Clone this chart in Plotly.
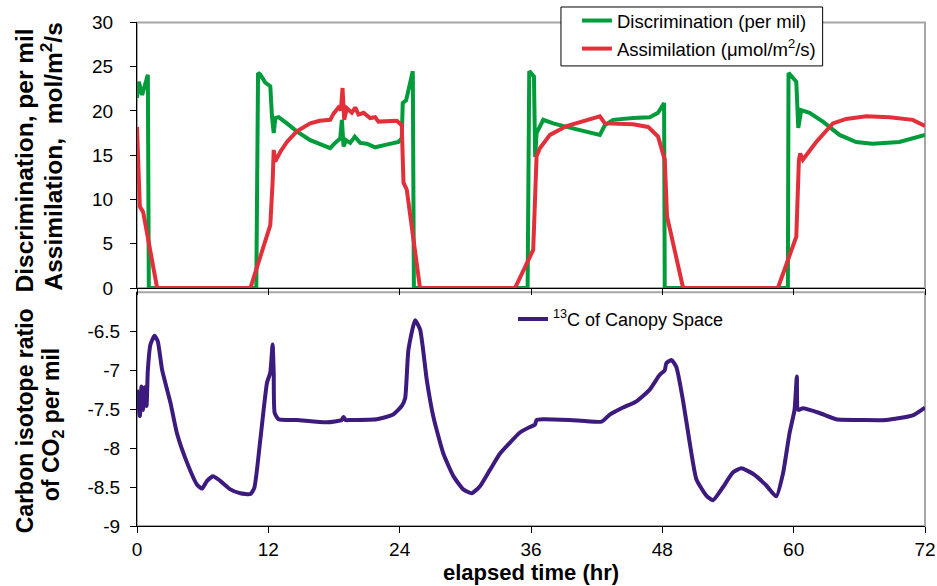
import plotly.graph_objects as go

# ---------------- data ----------------
disc_t = [0.0, 0.17, 0.47, 0.62, 0.99, 1.08, 10.9, 11.06, 11.27, 11.72, 12.18, 12.33, 12.49, 12.64,
          12.94, 13.7, 14.6, 15.83, 17.65, 18.1, 18.57, 18.72, 18.87, 19.1, 19.48, 19.9, 20.4, 21.0,
          21.76, 22.8, 23.89, 24.19, 24.28, 24.59, 25.2, 25.3, 35.69, 35.84, 36.27, 36.38, 36.51,
          37.12, 38.03, 39.25, 40.77, 42.29, 42.75, 43.5, 45.33, 46.85, 47.61, 48.16, 48.22, 59.47,
          59.53, 60.24, 60.42, 60.69, 61.45, 62.67, 64.19, 65.71, 67.2, 69.66, 72.0]
disc_v = [21.5, 23.3, 21.8, 22.4, 24.1, 0.0, 0.0, 24.3, 24.1, 23.2, 22.8, 19.4, 17.5, 19.2,
          19.3, 18.6, 17.7, 16.7, 15.8, 16.4, 16.9, 19.0, 16.0, 16.7, 16.4, 17.1, 16.4, 16.3,
          15.9, 16.2, 16.5, 16.9, 20.9, 21.2, 24.5, 0.0, 0.0, 24.5, 23.9, 14.8, 17.5,
          19.0, 18.6, 18.2, 17.8, 17.3, 18.4, 19.0, 19.2, 19.3, 19.8, 20.9, 0.0, 0.0,
          24.3, 23.3, 18.1, 20.1, 19.8, 18.8, 17.3, 16.5, 16.3, 16.5, 17.3]

assim_t = [0.0, 0.17, 0.26, 0.56, 1.84, 10.36, 12.18, 12.4, 12.49, 12.64, 13.1, 13.7, 14.6, 15.83,
           16.7, 17.65, 17.96, 18.4, 18.63, 18.78, 18.93, 19.18, 19.63, 19.94, 20.24, 20.7, 21.3,
           21.76, 22.07, 23.74, 24.19, 24.35, 24.65, 25.86, 34.54, 36.2, 36.51, 36.81, 37.73,
           39.25, 40.77, 42.29, 42.75, 43.8, 45.33, 46.7, 47.61, 48.22, 48.43, 49.9, 58.56,
           60.24, 60.48, 60.6, 60.84, 62.06, 63.58, 64.8, 66.62, 68.75, 70.88, 72.0]
assim_v = [18.2, 12.2, 9.2, 8.6, 0.0, 0.0, 7.1, 12.2, 15.6, 14.3, 15.4, 16.5, 17.7, 18.6,
           18.9, 19.0, 19.7, 20.4, 20.1, 22.6, 19.0, 20.3, 19.8, 20.4, 19.6, 19.8, 19.2,
           19.3, 18.8, 18.9, 18.4, 11.9, 11.1, 0.0, 0.0, 4.3, 14.9, 15.8, 17.3,
           18.3, 18.9, 19.4, 18.6, 18.6, 18.5, 18.2, 17.1, 14.5, 8.1, 0.0, 0.0,
           5.8, 14.5, 15.2, 14.5, 16.5, 18.6, 19.1, 19.4, 19.3, 19.0, 18.3]

c13_t = [0.0, 0.26, 0.41, 0.56, 0.68, 0.87, 0.99, 1.23, 1.6, 1.9, 2.3, 3.06, 3.65, 4.58, 5.49,
         5.95, 6.4, 6.95, 7.6, 8.53, 9.44, 10.36, 10.72, 11.27, 11.88, 12.18, 12.39, 12.49,
         12.58, 12.94, 14.6, 17.35, 18.7, 18.87, 19.05, 19.48, 21.9, 23.4, 24.19, 24.5, 24.8,
         25.41, 25.87, 26.48, 27.08, 27.99, 28.91, 29.82, 30.58, 31.34, 32.25, 33.17, 34.08,
         34.99, 35.9, 36.36, 36.51, 37.12, 39.55, 42.44, 43.2, 44.41, 45.63, 46.85, 47.76,
         48.22, 48.37, 48.83, 49.28, 49.89, 50.5, 51.11, 52.02, 52.63, 53.55, 54.46, 55.22,
         56.28, 57.5, 58.41, 59.02, 59.62, 60.08, 60.29, 60.41, 60.84, 62.36, 63.88, 66.32,
         68.45, 70.88, 72.0]
c13_v = [-7.25, -7.59, -7.21, -7.51, -7.22, -7.46, -7.0, -6.67, -6.56, -6.63, -7.0, -7.42, -7.81,
         -8.19, -8.47, -8.52, -8.42, -8.36, -8.42, -8.53, -8.58, -8.59, -8.51, -7.89, -7.16,
         -7.03, -6.67, -7.03, -7.55, -7.63, -7.64, -7.67, -7.64, -7.6, -7.64, -7.64, -7.63,
         -7.57, -7.46, -7.36, -6.74, -6.36, -6.48, -7.13, -7.6, -8.07, -8.36, -8.53, -8.58,
         -8.49, -8.28, -8.07, -7.93, -7.8, -7.73, -7.7, -7.64, -7.63, -7.64, -7.66, -7.57,
         -7.48, -7.4, -7.25, -7.06, -7.0, -6.91, -6.87, -6.96, -7.39, -7.93, -8.4, -8.61,
         -8.67, -8.5, -8.31, -8.26, -8.33, -8.48, -8.62, -8.33, -7.81, -7.51, -7.08, -7.51,
         -7.49, -7.55, -7.63, -7.64, -7.64, -7.58, -7.48]

x_ticks = [0, 12, 24, 36, 48, 60, 72]
top_ticks = [0, 5, 10, 15, 20, 25, 30]
bot_ticks = [-9, -8.5, -8, -7.5, -7, -6.5]
bot_ticktext = ["-9", "-8.5", "-8", "-7.5", "-7", "-6.5"]

# ---------------- styles / layout helpers ----------------
FONT = "Liberation Sans, Arial, sans-serif"
GREEN = "#009B3A"
RED = "#E1303A"
PURPLE = "#3C1A7E"
GRAY = "#A6A6A6"

W, H = 937, 586
ML, MR, MT, MB = 136.5, 11.5, 0, 59.5
PW, PH = W - ML - MR, H - MT - MB


def px_x(px):
    return (px - ML) / PW


def px_y(py):
    return (H - MB - py) / PH


fig = go.Figure()
fig.add_trace(go.Scatter(x=disc_t, y=disc_v, mode="lines", name="Discrimination (per mil)",
                         line=dict(color=GREEN, width=4), xaxis="x", yaxis="y", legend="legend",
                         legendgroup="a"))
fig.add_trace(go.Scatter(x=assim_t, y=assim_v, mode="lines",
                         name="Assimilation (\u03bcmol/m<sup>2</sup>/s)",
                         line=dict(color=RED, width=4), xaxis="x", yaxis="y", legend="legend",
                         legendgroup="b"))
fig.add_trace(go.Scatter(x=c13_t, y=c13_v, mode="lines", name="<sup>13</sup>C of Canopy Space",
                         line=dict(color=PURPLE, width=4, shape="spline", smoothing=0.5),
                         xaxis="x2", yaxis="y2", legend="legend2"))

axis_common = dict(showgrid=False, zeroline=False, showline=True, linecolor="black", linewidth=1,
                   ticks="outside", ticklen=6, tickcolor="black", automargin=False,
                   tickfont=dict(family=FONT, size=19, color="black"))

top_title_font = dict(family=FONT, size=24.5, color="black")
bot_title_font = dict(family=FONT, size=23, color="black")
annotations = [
    dict(text="<b>Discrimination, per mil</b>", x=px_x(24), y=px_y(161), textangle=-90,
         font=top_title_font),
    dict(text="<b>Assimilation,  mol/m<sup>2</sup>/s</b>", x=px_x(51), y=px_y(157), textangle=-90,
         font=top_title_font),
    dict(text="<b>Carbon isotope ratio</b>", x=px_x(24), y=px_y(421), textangle=-90,
         font=bot_title_font),
    dict(text="<b>of CO<sub>2</sub> per mil</b>", x=px_x(52), y=px_y(425), textangle=-90,
         font=bot_title_font),
    dict(text="<b>elapsed time (hr)</b>", x=px_x(531), y=px_y(573), textangle=0,
         font=dict(family=FONT, size=22, color="black")),
]
for a in annotations:
    a.update(xref="paper", yref="paper", xanchor="center", yanchor="middle", showarrow=False)

fig.update_layout(
    width=W, height=H,
    margin=dict(l=ML, r=MR, t=MT, b=MB, autoexpand=False),
    paper_bgcolor="white", plot_bgcolor="white",
    font=dict(family=FONT, color="black"),
    xaxis=dict(axis_common, domain=[0, 1], range=[0, 72], tickvals=x_ticks, showticklabels=False,
               anchor="y"),
    yaxis=dict(axis_common, domain=[px_y(288.3), px_y(22.5)], range=[0, 30], tickvals=top_ticks,
               anchor="x", ticklabelstandoff=13),
    xaxis2=dict(axis_common, domain=[0, 1], range=[0, 72], tickvals=x_ticks, anchor="y2",
                ticklabelstandoff=0),
    yaxis2=dict(axis_common, domain=[0, px_y(292.5)], range=[-9, -6], tickvals=bot_ticks,
                ticktext=bot_ticktext, anchor="x2", ticklabelstandoff=6),
    legend=dict(x=px_x(577), y=px_y(2), xanchor="left", yanchor="top", bgcolor="rgba(0,0,0,0)",
                borderwidth=0, font=dict(family=FONT, size=18.5), traceorder="grouped",
                tracegroupgap=1),
    legend2=dict(x=px_x(513), y=px_y(301), xanchor="left", yanchor="top", bgcolor="rgba(0,0,0,0)",
                 borderwidth=0, font=dict(family=FONT, size=18)),
    showlegend=True,
    annotations=annotations,
    shapes=[
        dict(type="rect", xref="x domain", yref="y domain", x0=0, x1=1, y0=0, y1=1,
             line=dict(color=GRAY, width=2), layer="below"),
        dict(type="rect", xref="x2 domain", yref="y2 domain", x0=0, x1=1, y0=0, y1=1,
             line=dict(color=GRAY, width=2), layer="below"),
        dict(type="rect", xref="paper", yref="paper", x0=px_x(561), x1=px_x(823),
             y0=px_y(66), y1=px_y(7), line=dict(color="black", width=1), fillcolor="white",
             layer="above"),
    ],
)

fig.write_html("out.html")
